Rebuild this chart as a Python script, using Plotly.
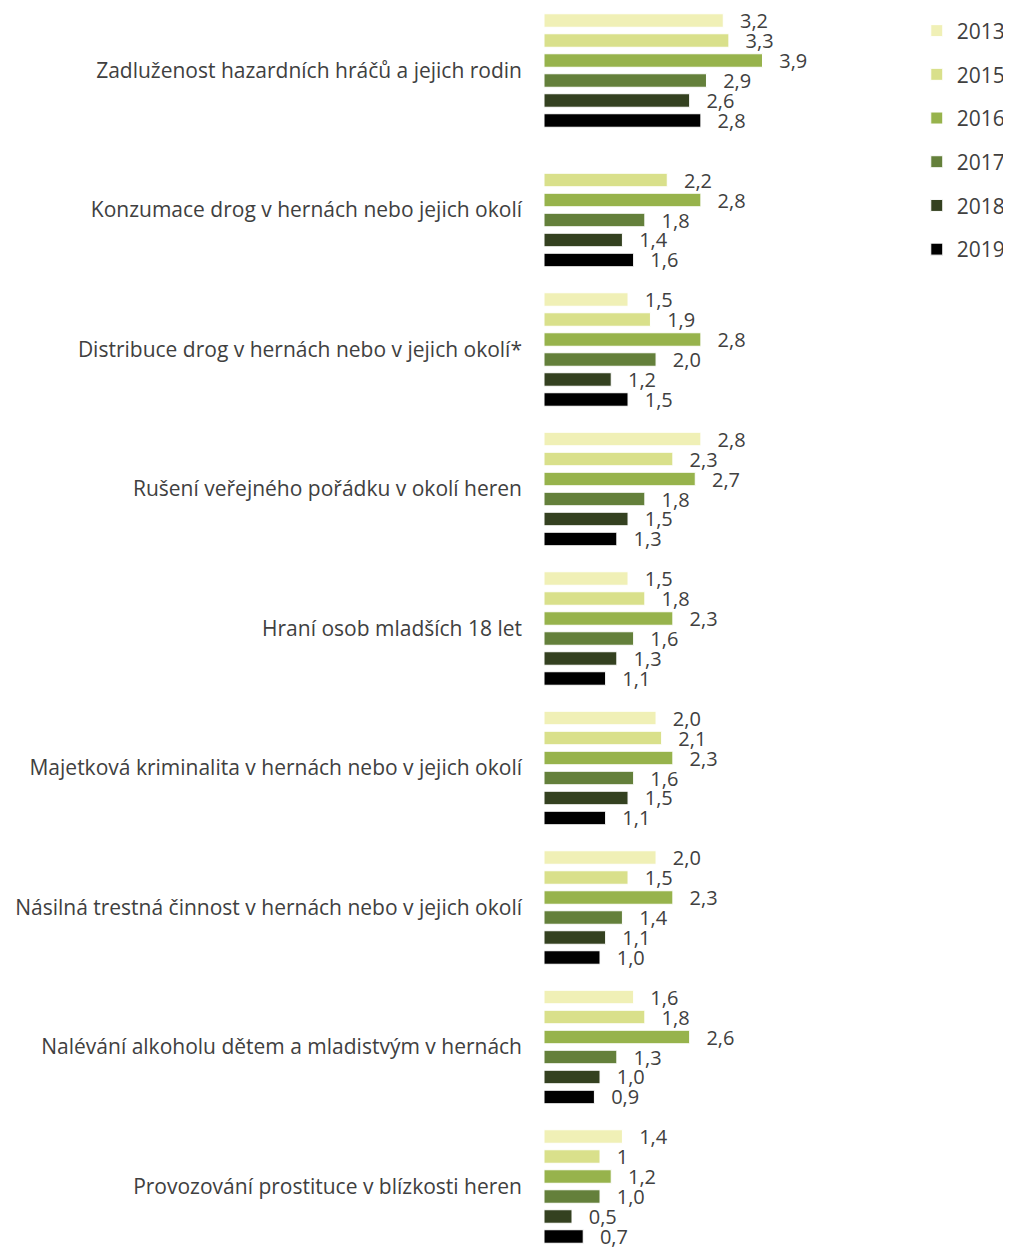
import plotly.graph_objects as go

categories = [
    "Zadluženost hazardních hráčů a jejich rodin",
    "Konzumace drog v hernách nebo jejich okolí",
    "Distribuce drog v hernách nebo v jejich okolí*",
    "Rušení veřejného pořádku v okolí heren",
    "Hraní osob mladších 18 let",
    "Majetková kriminalita v hernách nebo v jejich okolí",
    "Násilná trestná činnost v hernách nebo v jejich okolí",
    "Nalévání alkoholu dětem a mladistvým v hernách",
    "Provozování prostituce v blízkosti heren",
]

years = ["2013", "2015", "2016", "2017", "2018", "2019"]

v2013 = [3.2, None, 1.5, 2.8, 1.5, 2.0, 2.0, 1.6, 1.4]
v2015 = [3.3, 2.2, 1.9, 2.3, 1.8, 2.1, 1.5, 1.8, 1.0]
v2016 = [3.9, 2.8, 2.8, 2.7, 2.3, 2.3, 2.3, 2.6, 1.2]
v2017 = [2.9, 1.8, 2.0, 1.8, 1.6, 1.6, 1.4, 1.3, 1.0]
v2018 = [2.6, 1.4, 1.2, 1.5, 1.3, 1.5, 1.1, 1.0, 0.5]
v2019 = [2.8, 1.6, 1.5, 1.3, 1.1, 1.1, 1.0, 0.9, 0.7]

l2013 = ["3,2", "", "1,5", "2,8", "1,5", "2,0", "2,0", "1,6", "1,4"]
l2015 = ["3,3", "2,2", "1,9", "2,3", "1,8", "2,1", "1,5", "1,8", "1"]
l2016 = ["3,9", "2,8", "2,8", "2,7", "2,3", "2,3", "2,3", "2,6", "1,2"]
l2017 = ["2,9", "1,8", "2,0", "1,8", "1,6", "1,6", "1,4", "1,3", "1,0"]
l2018 = ["2,6", "1,4", "1,2", "1,5", "1,3", "1,5", "1,1", "1,0", "0,5"]
l2019 = ["2,8", "1,6", "1,5", "1,3", "1,1", "1,1", "1,0", "0,9", "0,7"]

colors = ["#F0F0B6", "#D9E08B", "#97B34C", "#64803B", "#344120", "#000000"]

series = [v2013, v2015, v2016, v2017, v2018, v2019]
labels = [l2013, l2015, l2016, l2017, l2018, l2019]

FONT = "Open Sans"
TXT = "#404040"

fig = go.Figure()
for i, (yr, vals, labs) in enumerate(zip(years, series, labels)):
    fig.add_trace(go.Bar(
        name=yr,
        y=categories,
        x=vals,
        orientation="h",
        marker=dict(color=colors[i], line=dict(color="#FFFFFF", width=1)),
        text=[("\u00a0\u00a0\u2009" + t) if t else "" for t in labs],
        textposition="outside",
        textfont=dict(family=FONT, size=20, color=TXT),
        constraintext="none",
        cliponaxis=False,
        legendgroup=yr,
        hoverinfo="skip",
    ))

W, H = 1003, 1240
ml, mt, mb = 536, 0, 0
plotw = 356
mr = W - ml - plotw
pitch = 139.5
span = H / pitch
top = -62.5 / pitch

fig.update_layout(
    width=W, height=H,
    margin=dict(l=ml, r=mr, t=mt, b=mb, pad=0),
    barmode="group",
    bargap=0.14,
    bargroupgap=0.325,
    plot_bgcolor="white",
    paper_bgcolor="white",
    font=dict(family=FONT, size=20, color=TXT),
    showlegend=True,
    legend=dict(
        x=1.056, xanchor="left",
        y=0.998, yanchor="top",
        traceorder="grouped",
        tracegroupgap=13.4,
        font=dict(family=FONT, size=21, color=TXT),
        bgcolor="rgba(0,0,0,0)",
    ),
    xaxis=dict(
        range=[0, plotw / 56.5],
        showgrid=False, zeroline=False, showline=False,
        showticklabels=False, ticks="",
    ),
    yaxis=dict(
        range=[top + span, top],
        showgrid=False, zeroline=False, showline=False,
        ticks="",
        ticklabelstandoff=21,
        tickfont=dict(family=FONT, size=21, color=TXT),
    ),
)

fig.write_html("out.html")
